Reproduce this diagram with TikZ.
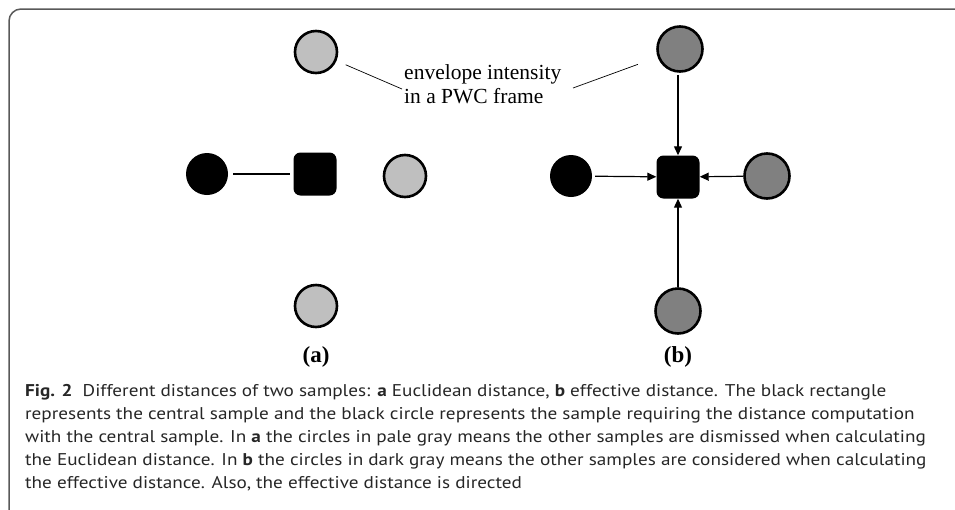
\documentclass[tikz,border=0pt]{standalone}
\usepackage{fontspec}
\setmainfont{Liberation Serif}
\newfontfamily\capfont[FakeStretch=1.13]{PT Sans}
\usetikzlibrary{arrows.meta}

\tikzset{
  pale/.style={circle, draw, line width=2.6pt, fill=black!25, minimum size=42pt, inner sep=0pt},
  dark/.style={pale, fill=black!50, minimum size=45pt},
  src/.style={circle, fill=black, minimum size=42pt, inner sep=0pt},
  centre/.style={rectangle, fill=black, rounded corners=7pt, minimum size=43pt, inner sep=0pt},
  link/.style={line width=1.2pt},
  arr/.style={link, -{Triangle[length=9pt,width=8pt]}},
  panel/.style={font=\fontsize{23}{27}\selectfont\bfseries},
  captext/.style={font=\capfont\fontsize{17}{23}\selectfont, text=black!85, inner sep=0pt}
}

\begin{document}
\begin{tikzpicture}[x=1pt,y=-1pt]
\useasboundingbox (0,0) rectangle (955,509);
% frame
\draw[black!65, line width=1.5pt, rounded corners=12pt] (970,9) -- (9,9) -- (9,530);

% (a) euclidean distance
\node[pale]   (ta) at (316,52)  {};
\node[src]    (sa) at (207,174) {};
\node[centre] (ca) at (315,174) {};
\node[pale]   (ra) at (405,176) {};
\node[pale]   (ba) at (316,306) {};
\draw[link, shorten <=5pt, shorten >=3pt] (sa) -- (ca);
\node[panel] (labA) at (316,357) {(a)};

% (b) effective distance
\node[dark]   (tb) at (680,49)  {};
\node[src]    (sb) at (571,176) {};
\node[centre] (cb) at (678,177) {};
\node[dark]   (rb) at (767,176) {};
\node[dark]   (bb) at (678,311) {};
\draw[arr, shorten <=2pt] (tb.south -| cb) -- (cb);
\draw[arr, shorten <=3pt] (sb) -- (cb);
\draw[arr] (rb) -- (cb);
\draw[arr] (bb.north -| cb) -- (cb);
\node[panel] (labB) at (678,357) {(b)};

% shared label
\node[anchor=west, align=left, inner sep=0pt, font=\fontsize{21.5}{24}\selectfont] (env) at (404,84)
  {envelope intensity\\in a PWC frame};
\coordinate (envL) at (402,89);
\coordinate (envR) at (573,88);
\draw[line width=0.7pt, shorten >=10pt] (envL) -- (ta);
\draw[line width=0.7pt, shorten >=21pt] (envR) -- (tb);

% caption
\foreach \i/\txt in {
  0/{\textbf{Fig. 2}\hspace{0.6em}Different distances of two samples: \textbf{a} Euclidean distance, \textbf{b} effective distance. The black rectangle},
  1/{represents the central sample and the black circle represents the sample requiring the distance computation},
  2/{with the central sample. In \textbf{a} the circles in pale gray means the other samples are dismissed when calculating},
  3/{the Euclidean distance. In \textbf{b} the circles in dark gray means the other samples are considered when calculating},
  4/{the effective distance. Also, the effective distance is directed}} {
  \node[captext, anchor=base west] (cap\i) at (25,396+23*\i) {\txt};
}
\end{tikzpicture}
\end{document}
